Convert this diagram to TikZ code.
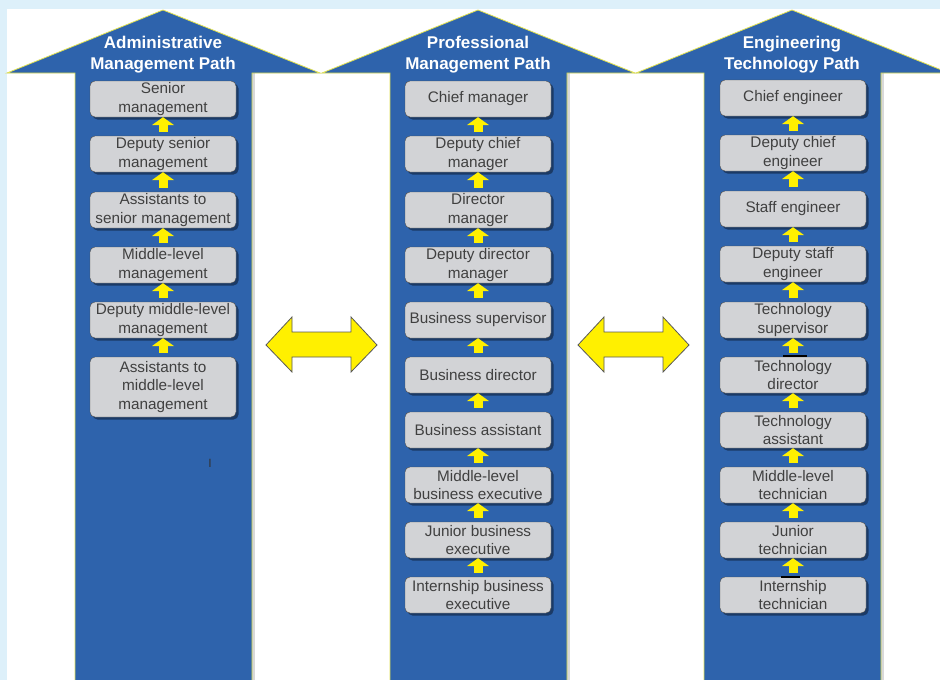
\documentclass[tikz,border=0pt]{standalone}
\usepackage{fontspec}
\setmainfont{Liberation Sans}
\usetikzlibrary{arrows.meta,shadows}
\definecolor{pc}{RGB}{46,99,172}
\definecolor{bc}{RGB}{210,211,214}
\definecolor{yc}{RGB}{255,240,0}
\definecolor{ec}{RGB}{226,226,80}
\definecolor{sky}{RGB}{221,240,250}
\tikzset{rk/.style={draw=black!70,fill=bc,rounded corners=5pt,minimum width=146pt,minimum height=36pt,
  inner sep=0pt,align=center,text=black!75,font=\fontsize{15.3}{18.3}\selectfont,
  drop shadow={shadow xshift=2.5pt,shadow yshift=-2.5pt,fill=pc!55!black,opacity=.9}},
 ttl/.style={text=white,align=center,font=\bfseries\fontsize{17}{21}\selectfont},
 up/.style={yc,line width=9pt,-{Triangle[width=22pt,length=8pt]},shorten <=4pt},
 dbl/.style={draw=black!65,fill=yc,line width=.8pt,line join=miter}}
\begin{document}
\begin{tikzpicture}[x=1pt,y=-1pt]
\useasboundingbox (0,0) rectangle (940,680);
\clip (0,0) rectangle (940,680);
\fill[sky] (0,0) rectangle (940,680);
\fill[white] (7,9) rectangle (940,680);
% the three paths
\foreach \c in {163,478,792}{
 \fill[black!15] (\c+88,73) rectangle (\c+92,690);
 \draw[ec,fill=pc,line width=.8pt] (\c-88,690) -- (\c-88,73) -- (\c-156,73) -- (\c,10) -- (\c+157,73) -- (\c+89,73) -- (\c+89,690);}
\node[ttl] (ta) at (163,55) {Administrative\\Management Path};
\node[ttl] (tp) at (478,55) {Professional\\Management Path};
\node[ttl] (te) at (792,55) {Engineering\\Technology Path};
% administrative
\node[rk] (a1) at (163,99) {Senior\\management};
\node[rk] (a2) at (163,154) {Deputy senior\\management};
\node[rk] (a3) at (163,210) {Assistants to\\senior management};
\node[rk] (a4) at (163,265) {Middle-level\\management};
\node[rk] (a5) at (163,320) {Deputy middle-level\\management};
\node[rk,minimum height=60pt] (a6) at (163,387) {Assistants to\\middle-level\\management};
% professional
\node[rk] (p1) at (478,99) {Chief manager};
\node[rk] (p2) at (478,154) {Deputy chief\\manager};
\node[rk] (p3) at (478,210) {Director\\manager};
\node[rk] (p4) at (478,265) {Deputy director\\manager};
\node[rk] (p5) at (478,320) {Business supervisor};
\node[rk] (p6) at (478,375) {Business director};
\node[rk] (p7) at (478,430) {Business assistant};
\node[rk] (p8) at (478,485) {Middle-level\\business executive};
\node[rk] (p9) at (478,540) {Junior business\\executive};
\node[rk] (p10) at (478,595) {Internship business\\executive};
% engineering
\node[rk] (e1) at (793,98) {Chief engineer};
\node[rk] (e2) at (793,153) {Deputy chief\\engineer};
\node[rk] (e3) at (793,209) {Staff engineer};
\node[rk] (e4) at (793,264) {Deputy staff\\engineer};
\node[rk] (e5) at (793,320) {Technology\\supervisor};
\node[rk] (e6) at (793,375) {Technology\\director};
\node[rk] (e7) at (793,430) {Technology\\assistant};
\node[rk] (e8) at (793,485) {Middle-level\\technician};
\node[rk] (e9) at (793,540) {Junior\\technician};
\node[rk] (e10) at (793,595) {Internship\\technician};
% promotion arrows
\draw[up] (a2.north)--(a1.south);\draw[up] (a3.north)--(a2.south);\draw[up] (a4.north)--(a3.south);
\draw[up] (a5.north)--(a4.south);\draw[up] (a6.north)--(a5.south);
\draw[up] (p2.north)--(p1.south);\draw[up] (p3.north)--(p2.south);\draw[up] (p4.north)--(p3.south);
\draw[up] (p5.north)--(p4.south);\draw[up] (p6.north)--(p5.south);\draw[up] (p7.north)--(p6.south);
\draw[up] (p8.north)--(p7.south);\draw[up] (p9.north)--(p8.south);\draw[up] (p10.north)--(p9.south);
\draw[up] (e2.north)--(e1.south);\draw[up] (e3.north)--(e2.south);\draw[up] (e4.north)--(e3.south);
\draw[up] (e5.north)--(e4.south);\draw[up] (e6.north)--(e5.south);\draw[up] (e7.north)--(e6.south);
\draw[up] (e8.north)--(e7.south);\draw[up] (e9.north)--(e8.south);\draw[up] (e10.north)--(e9.south);
% two-way moves between paths
\foreach \d in {0,312}
 \draw[dbl] (266+\d,345) -- (292+\d,317) -- (292+\d,332) -- (351+\d,332) -- (351+\d,317) -- (377+\d,345)
  -- (351+\d,372) -- (351+\d,357) -- (292+\d,357) -- (292+\d,372) -- cycle;
\node[font=\fontsize{12}{12}\selectfont,text=black!80,inner sep=0pt] (mk) at (210,463) {I};
\draw[black,line width=1.6pt] (783,356) -- (807,356);
\draw[black,line width=1.6pt] (781,577) -- (800,577);
\end{tikzpicture}
\end{document}
